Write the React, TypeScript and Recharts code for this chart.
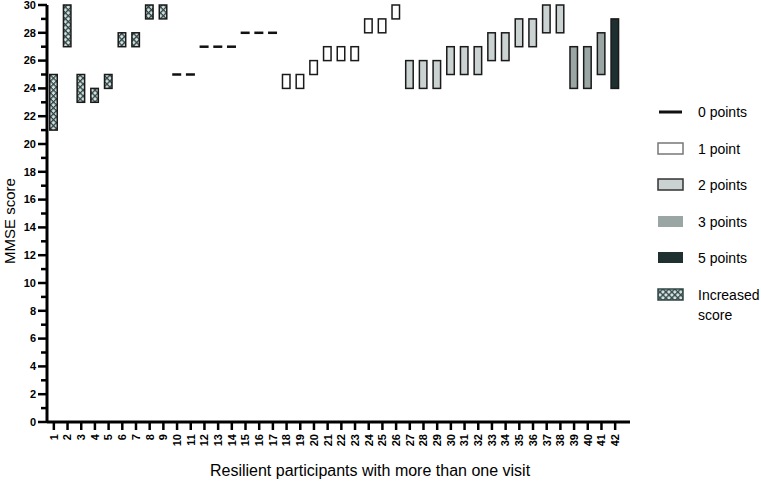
import React from 'react';
import { BarChart, Bar, XAxis, YAxis } from 'recharts';

const participants = Array.from({ length: 42 }, (_, i) => String(i + 1));

const lowScores = [
  21, 27, 23, 23, 24, 27, 27, 29, 29, 25, 25, 27, 27, 27, 28, 28, 28, 24, 24, 25, 26,
  26, 26, 28, 28, 29, 24, 24, 24, 25, 25, 25, 26, 26, 27, 27, 28, 28, 24, 24, 25, 24,
];

const highScores = [
  25, 30, 25, 24, 25, 28, 28, 30, 30, 25, 25, 27, 27, 27, 28, 28, 28, 25, 25, 26, 27,
  27, 27, 29, 29, 30, 26, 26, 26, 27, 27, 27, 28, 28, 29, 29, 30, 30, 27, 27, 28, 29,
];

const groups = [
  'inc', 'inc', 'inc', 'inc', 'inc', 'inc', 'inc', 'inc', 'inc',
  'p0', 'p0', 'p0', 'p0', 'p0', 'p0', 'p0', 'p0',
  'p1', 'p1', 'p1', 'p1', 'p1', 'p1', 'p1', 'p1', 'p1',
  'p2', 'p2', 'p2', 'p2', 'p2', 'p2', 'p2', 'p2', 'p2', 'p2', 'p2', 'p2',
  'p3', 'p3', 'p3', 'p5',
];

const yTicks = Array.from({ length: 31 }, (_, i) => i);

const legendItems = [
  { key: 'p0', label: '0 points' },
  { key: 'p1', label: '1 point' },
  { key: 'p2', label: '2 points' },
  { key: 'p3', label: '3 points' },
  { key: 'p5', label: '5 points' },
  { key: 'inc', label: 'Increased score' },
];

const fills: Record<string, string> = {
  p1: '#ffffff',
  p2: '#cbd3d2',
  p3: '#9aa6a4',
  p5: '#1f3030',
  inc: 'url(#hatch)',
};

const data = participants.map((name, i) => ({
  name,
  range: [lowScores[i], highScores[i]],
  group: groups[i],
}));

const FONT = '"Liberation Sans", Arial, sans-serif';

// diamond lattice used for "Increased score"
function HatchPattern({ id }: { id: string }) {
  return (
    <pattern id={id} width={4.2} height={4.2} patternUnits="userSpaceOnUse" patternTransform="rotate(45)">
      <rect width={4.2} height={4.2} fill="#d3e0dd" />
      <line x1={0} y1={0} x2={4.2} y2={0} stroke="#2f4545" strokeWidth={2.6} />
      <line x1={0} y1={0} x2={0} y2={4.2} stroke="#2f4545" strokeWidth={2.6} />
    </pattern>
  );
}

function RangeShape(props: any) {
  const { x, y, width, height, payload } = props;
  const top = height < 0 ? y + height : y;
  const h = Math.abs(height || 0);
  if (payload.group === 'p0' || h < 1) {
    return <rect x={x} y={top - 1.25} width={width} height={2.5} fill="#111" />;
  }
  return (
    <rect
      x={x + 0.75}
      y={top}
      width={width - 1.5}
      height={h}
      fill={fills[payload.group]}
      stroke="#1a1a1a"
      strokeWidth={1.5}
    />
  );
}

function YTick({ x, y, payload }: any) {
  const v = payload.value;
  const major = v % 2 === 0;
  return (
    <g>
      <line x1={x - (major ? 9 : 6)} x2={x} y1={y} y2={y} stroke="#000" strokeWidth={2.5} />
      {major && (
        <text
          x={x - 11}
          y={y}
          dy="0.35em"
          textAnchor="end"
          fontSize={11}
          fontWeight="bold"
          fontFamily={FONT}
          fill="#000"
        >
          {v}
        </text>
      )}
    </g>
  );
}

function XTick({ x, y, payload }: any) {
  return (
    <g transform={`translate(${x},${y})`}>
      <line x1={0} x2={0} y1={0} y2={8} stroke="#000" strokeWidth={2.5} />
      <text
        transform="rotate(-90)"
        x={-12}
        y={0}
        dy="0.35em"
        textAnchor="end"
        fontSize={11}
        fontWeight="bold"
        fontFamily={FONT}
        fill="#000"
      >
        {payload.value}
      </text>
    </g>
  );
}

function LegendIcon({ k }: { k: string }) {
  if (k === 'p0') {
    return (
      <svg width={27} height={14}>
        <rect x={2} y={5.5} width={23} height={3} fill="#111" />
      </svg>
    );
  }
  return (
    <svg width={27} height={14}>
      <rect
        x={1}
        y={1}
        width={25}
        height={11}
        fill={k === 'inc' ? 'url(#hatchLegend)' : fills[k]}
        stroke={k === 'p1' ? '#777' : k === 'p2' ? '#333' : k === 'inc' ? '#2f4545' : 'none'}
        strokeWidth={1.5}
      />
    </svg>
  );
}

export default function App() {
  return (
    <div style={{ position: 'absolute', left: 0, top: 0, width: 761, height: 482, background: '#fff' }}>
      <svg width={0} height={0} style={{ position: 'absolute' }}>
        <defs>
          <HatchPattern id="hatchLegend" />
        </defs>
      </svg>
      <BarChart
        width={761}
        height={482}
        data={data}
        margin={{ top: 5, right: 131, bottom: 0, left: 0 }}
        barSize={9}
      >
        <defs>
          <HatchPattern id="hatch" />
        </defs>
        <XAxis
          dataKey="name"
          interval={0}
          height={60}
          tickSize={0}
          tickMargin={0}
          tick={<XTick />}
          padding={{ left: 0, right: 8 }}
          axisLine={{ stroke: '#000', strokeWidth: 3 }}
        />
        <YAxis
          domain={[0, 30]}
          ticks={yTicks}
          interval={0}
          width={47}
          tickSize={0}
          tickMargin={0}
          tick={<YTick />}
          axisLine={{ stroke: '#000', strokeWidth: 3 }}
        />
        <Bar dataKey="range" shape={<RangeShape />} isAnimationActive={false} />
      </BarChart>

      <div
        style={{
          position: 'absolute',
          left: 0,
          top: 221,
          transform: 'translate(-50%, -50%) rotate(-90deg)',
          marginLeft: 9,
          fontFamily: FONT,
          fontSize: 15,
          whiteSpace: 'nowrap',
          color: '#000',
        }}
      >
        MMSE score
      </div>
      <div
        style={{
          position: 'absolute',
          left: 0,
          width: 740,
          top: 462,
          textAlign: 'center',
          fontFamily: FONT,
          fontSize: 16,
          color: '#000',
        }}
      >
        Resilient participants with more than one visit
      </div>

      <div style={{ position: 'absolute', left: 657, top: 104, fontFamily: FONT, fontSize: 14, color: '#000' }}>
        {legendItems.map((item) => (
          <div key={item.key} style={{ display: 'flex', alignItems: 'flex-start', height: 36.5 }}>
            <div style={{ width: 41, paddingTop: 1 }}>
              <LegendIcon k={item.key} />
            </div>
            <div style={{ width: 62, lineHeight: '20px', marginTop: -2 }}>{item.label}</div>
          </div>
        ))}
      </div>
    </div>
  );
}
